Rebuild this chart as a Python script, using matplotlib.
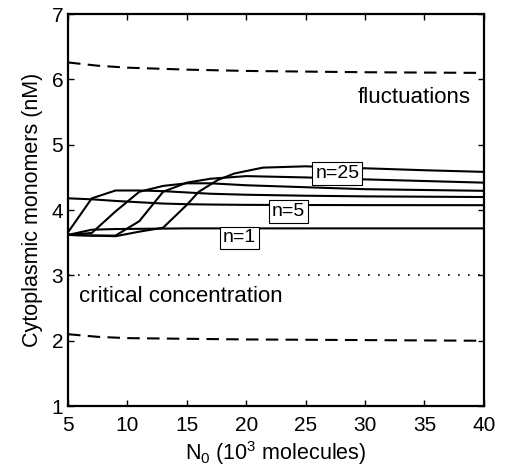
import numpy as np
import matplotlib
matplotlib.use('Agg')
import matplotlib.pyplot as plt

plt.rcParams['font.family'] = ['Liberation Sans', 'DejaVu Sans']
plt.rcParams['mathtext.fontset'] = 'custom'
plt.rcParams['mathtext.rm'] = 'Liberation Sans'
plt.rcParams['mathtext.it'] = 'Liberation Sans:italic'

# curves for different n (N0 in 10^3 molecules, concentration in nM)
x_n1 = [5, 7, 9, 15, 20, 30, 40]
y_n1 = [3.62, 3.70, 3.71, 3.72, 3.72, 3.72, 3.72]

x_n5 = [5, 7, 9, 11, 13, 15, 17, 20, 25, 30, 40]
y_n5 = [4.18, 4.165, 4.14, 4.12, 4.10, 4.09, 4.085, 4.08, 4.078, 4.076, 4.075]

x_n10 = [5, 7, 9, 11, 13, 15, 17, 20, 25, 30, 40]
y_n10 = [3.66, 4.18, 4.30, 4.30, 4.29, 4.27, 4.25, 4.235, 4.22, 4.21, 4.20]

x_n15 = [5, 7, 9, 11, 13, 15, 17, 20, 25, 30, 40]
y_n15 = [3.62, 3.65, 3.98, 4.28, 4.37, 4.41, 4.41, 4.38, 4.35, 4.32, 4.295]

x_n20 = [5, 7, 9, 11, 13, 15, 17, 20, 25, 30, 40]
y_n20 = [3.62, 3.61, 3.61, 3.83, 4.28, 4.42, 4.48, 4.52, 4.50, 4.47, 4.42]

x_n25 = [5, 7, 9, 11, 13, 15, 16, 17.6, 19, 21.4, 25, 30, 35, 40]
y_n25 = [3.62, 3.61, 3.60, 3.67, 3.73, 4.08, 4.28, 4.46, 4.56, 4.65, 4.67, 4.64, 4.61, 4.585]

# fluctuation bounds and critical concentration
x_fl = [5, 7.5, 10, 15, 20, 30, 40]
y_fl_up = [6.26, 6.21, 6.18, 6.15, 6.13, 6.11, 6.10]
y_fl_lo = [2.10, 2.06, 2.04, 2.03, 2.02, 2.01, 2.00]
crit = 3.0

fig = plt.figure(figsize=(5.05, 4.70), dpi=100)
ax = fig.add_axes([0.1347, 0.136, 0.8233, 0.834])

for xs, ys in [(x_n1, y_n1), (x_n5, y_n5), (x_n10, y_n10),
               (x_n15, y_n15), (x_n20, y_n20), (x_n25, y_n25)]:
    ax.plot(xs, ys, color='black', lw=1.5)

ax.plot(x_fl, y_fl_up, color='black', lw=1.5, linestyle=(0, (6, 3.5)))
ax.plot(x_fl, y_fl_lo, color='black', lw=1.5, linestyle=(0, (6, 3.5)))
ax.plot([5, 40], [crit, crit], color='black', lw=1.2, linestyle=(0, (1, 5)))

box = dict(boxstyle='square,pad=0.15', facecolor='white', edgecolor='black', lw=0.8)
ax.text(27.68, 4.565, 'n=25', fontsize=14, ha='center', va='center', bbox=box)
ax.text(23.53, 3.973, 'n=5', fontsize=14, ha='center', va='center', bbox=box)
ax.text(19.42, 3.573, 'n=1', fontsize=14, ha='center', va='center', bbox=box)

ax.text(38.9, 5.64, 'fluctuations', fontsize=16, ha='right', va='baseline')
ax.text(5.95, 2.594, 'critical concentration', fontsize=16, ha='left', va='baseline')

ax.set_xlim(5, 40)
ax.set_ylim(1, 7)
ax.set_xticks(range(5, 41, 5))
ax.set_yticks(range(1, 8))
ax.tick_params(direction='in', top=True, right=True, length=4, width=1, labelsize=15)
ax.tick_params(axis='x', pad=7)
for s in ax.spines.values():
    s.set_linewidth(1.6)

ax.set_xlabel(r'N$_\mathregular{0}$ (10$^\mathregular{3}$ molecules)', fontsize=15.5, labelpad=3)
ax.set_ylabel('Cytoplasmic monomers (nM)', fontsize=15.5, labelpad=6)

plt.savefig('out.png', dpi=100)
